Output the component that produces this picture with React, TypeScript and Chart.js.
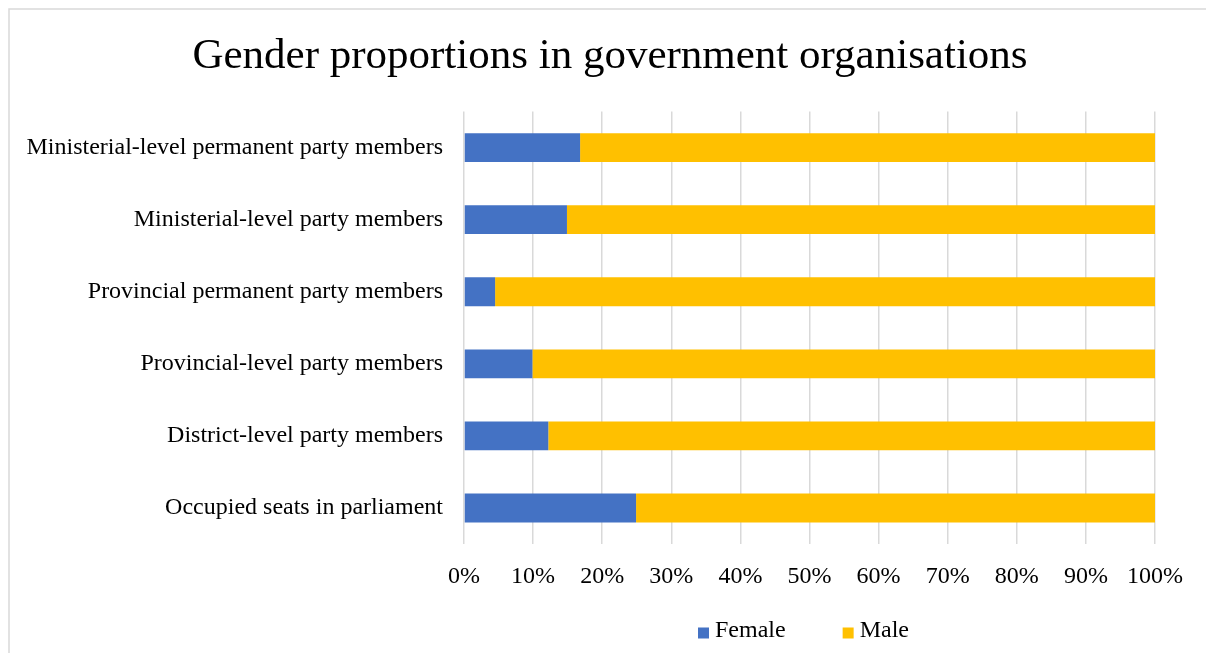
import React, { useEffect, useRef } from "react";
import { Chart, registerables } from "chart.js";

Chart.register(...registerables);

const categories = [
  "Ministerial-level permanent party members",
  "Ministerial-level party members",
  "Provincial permanent party members",
  "Provincial-level party members",
  "District-level party members",
  "Occupied seats in parliament",
];
const femaleValues = [16.8, 14.9, 4.5, 9.9, 12.2, 24.9];
const maleValues = [83.2, 85.1, 95.5, 90.1, 87.8, 75.1];
const titleText = "Gender proportions in government organisations";

const FONT = "'Liberation Serif', 'Times New Roman', serif";

const borderPlugin = {
  id: "outerBorder",
  beforeDraw(chart: any) {
    const ctx = chart.ctx;
    ctx.save();
    ctx.strokeStyle = "#d9d9d9";
    ctx.lineWidth = 1.5;
    ctx.strokeRect(9, 9, 1400, 800);
    ctx.restore();
  },
};

const legendPlugin = {
  id: "customLegend",
  afterDraw(chart: any) {
    const ctx = chart.ctx;
    ctx.save();
    ctx.font = "24px " + FONT;
    ctx.textBaseline = "middle";
    ctx.textAlign = "left";
    let x = 698;
    const boxY = 627.5;
    chart.data.datasets.forEach((ds: any) => {
      ctx.fillStyle = ds.backgroundColor;
      ctx.fillRect(x, boxY, 11, 11);
      ctx.fillStyle = "#000";
      ctx.fillText(ds.label, x + 17, 631);
      x += 17 + ctx.measureText(ds.label).width + 57;
    });
    ctx.restore();
  },
};

export default function App() {
  const ref = useRef<HTMLCanvasElement | null>(null);
  useEffect(() => {
    if (!ref.current) return;
    const chart = new Chart(ref.current, {
      type: "bar",
      data: {
        labels: categories,
        datasets: [
          {
            label: "Female",
            data: femaleValues,
            backgroundColor: "#4472C4",
            categoryPercentage: 1,
            barPercentage: 0.4,
          },
          {
            label: "Male",
            data: maleValues,
            backgroundColor: "#FFC000",
            categoryPercentage: 1,
            barPercentage: 0.4,
          },
        ],
      },
      options: {
        indexAxis: "y",
        responsive: false,
        animation: false,
        layout: { padding: { left: 14, right: 0, top: 0, bottom: 0 } },
        scales: {
          x: {
            stacked: true,
            min: 0,
            max: 100,
            ticks: {
              stepSize: 10,
              padding: 18,
              color: "#000",
              font: { family: FONT, size: 24 },
              callback: (v: any) => v + "%",
            },
            grid: { color: "#d9d9d9", lineWidth: 1.5, drawTicks: false },
            border: { display: false },
            afterFit: (s: any) => {
              s.height = 109;
            },
          },
          y: {
            stacked: true,
            ticks: {
              padding: 21,
              color: "#000",
              font: { family: FONT, size: 24 },
            },
            grid: { display: false, drawTicks: false },
            border: { display: false },
            afterFit: (s: any) => {
              s.width = 450;
            },
          },
          y2: {
            axis: "y",
            position: "right",
            display: true,
            ticks: { display: false },
            grid: { display: false, drawTicks: false },
            border: { display: false },
            afterFit: (s: any) => {
              s.width = 51;
            },
          },
        },
        plugins: {
          title: {
            display: true,
            text: titleText,
            color: "#000",
            font: { family: FONT, size: 43, weight: "normal" },
            padding: { top: 31, bottom: 29 },
          },
          legend: { display: false },
          tooltip: { enabled: false },
        },
      },
      plugins: [borderPlugin, legendPlugin],
    });
    return () => chart.destroy();
  }, []);
  return (
    <div style={{ position: "absolute", left: 0, top: 0, width: 1206, height: 653, background: "#fff" }}>
      <canvas ref={ref} width={1206} height={653} style={{ display: "block" }} />
    </div>
  );
}
